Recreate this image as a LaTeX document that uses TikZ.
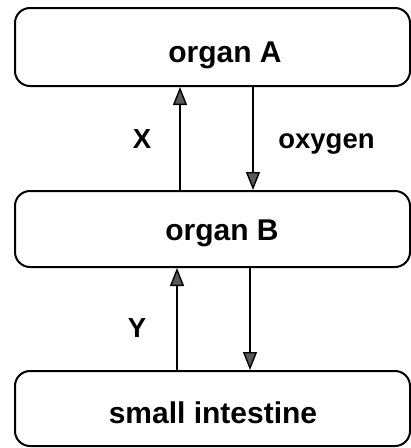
\documentclass[tikz,border=0pt]{standalone}
\usepackage{fontspec}
\setmainfont{Liberation Sans}
\usetikzlibrary{arrows.meta}
\tikzset{
  box/.style={draw=black, line width=2pt, rounded corners=15pt, minimum width=395pt, inner sep=0pt},
  boxtext/.style={anchor=base, font=\bfseries\fontsize{30}{31}\selectfont},
  lbl/.style={anchor=base, font=\bfseries\fontsize{27.5}{28}\selectfont},
  arr/.style={line width=1.4pt, -{Triangle[length=18pt,width=14pt,fill=black!65]}}
}
\begin{document}
\begin{tikzpicture}[x=1pt,y=-1pt]
\useasboundingbox (0,0) rectangle (411,448);
\node[box, minimum height=78pt] (A) at (212.5,47) {};
\node[box, minimum height=76pt] (B) at (212.5,229) {};
\node[box, minimum height=75pt] (C) at (212.5,408.5) {};
\node[boxtext] (tA) at (225,62) {organ A};
\node[boxtext] (tB) at (222,240) {organ B};
\node[boxtext] (tC) at (213,423) {small intestine};
\coordinate (u1) at (180,0);
\coordinate (d1) at (253,0);
\coordinate (u2) at (177,0);
\coordinate (d2) at (250,0);
\draw[arr] (B.north -| u1) -- (A.south -| u1);
\draw[arr] (A.south -| d1) -- (B.north -| d1);
\draw[arr] (C.north -| u2) -- (B.south -| u2);
\draw[arr] (B.south -| d2) -- (C.north -| d2);
\node[lbl] (X) at (142,148) {X};
\node[lbl] (ox) at (326.5,148) {oxygen};
\node[lbl] (Y) at (137,337) {Y};
\end{tikzpicture}
\end{document}
